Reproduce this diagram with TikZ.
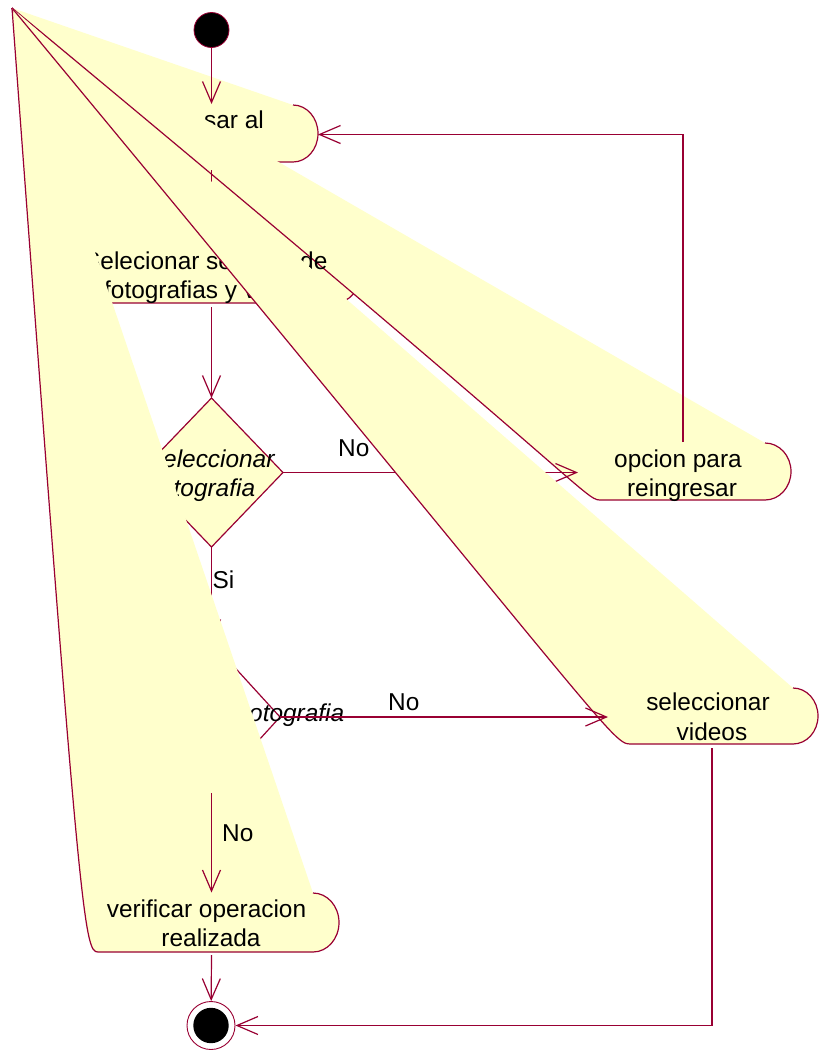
\documentclass[tikz,border=0pt]{standalone}
\usepackage{fontspec}
\setmainfont{Liberation Sans}
\usetikzlibrary{arrows.meta}
\definecolor{roseline}{RGB}{153,0,51}
\definecolor{rosefill}{RGB}{255,255,204}

% Activity outlines: rounded right end, bottom edge, then the left side
% swept back to the shared corner point (apex).
\newcommand\outlineIngresar{.. controls (306.8,105) and (318,117.8) .. (318,133.5) .. controls (318,149.2) and (306.8,162) .. (293,162) -- (124,162) .. controls (107,162) and (99,147) .. (apex)}
\newcommand\outlineServicio{.. controls (348.8,246) and (360,258.8) .. (360,274.5) .. controls (360,290.2) and (348.8,303) .. (335,303) -- (89,303) .. controls (72,303) and (64,288) .. (apex)}
\newcommand\outlineOpcion{.. controls (779.4,443) and (791,455.8) .. (791,471.5) .. controls (791,487.2) and (779.4,500) .. (765,500) -- (600,500) .. controls (585,500) and (585,483) .. (apex)}
\newcommand\outlineVideos{.. controls (806.8,688) and (818,700.5) .. (818,716) .. controls (818,731.5) and (806.8,744) .. (793,744) -- (630,744) .. controls (612,744) and (604,722) .. (apex)}
\newcommand\outlineVerificar{.. controls (327.4,893) and (339,906.2) .. (339,922.5) .. controls (339,938.8) and (327.4,952) .. (313,952) -- (98,952) .. controls (84,952) and (80,925) .. (apex)}

\begin{document}
\begin{tikzpicture}[x=1pt,y=-1pt,
  wire/.style={draw=roseline,line width=1.2pt},
  flow/.style={wire,-{Straight Barb[length=21pt,width=18pt]}},
  statefill/.style={fill=rosefill},
  txt/.style={font=\fontsize{24.4}{29}\selectfont,inner sep=0pt,text=black},
  guardtxt/.style={txt,font=\fontsize{24.4}{29}\selectfont\itshape}]

\useasboundingbox (0,0) rectangle (819,1050);
\fill[white] (0,0) rectangle (819,1050);
\coordinate (apex) at (12,8);

% ingresar al sistema
\fill[statefill] (apex) -- (293,105) \outlineIngresar -- cycle;
\draw[wire] (293,105) \outlineIngresar;
\node[txt,anchor=base west] (ingresarText) at (204,128.5) {sar al};

% initial state
\node[circle,fill=black,draw=roseline,line width=0.8pt,minimum size=35pt,inner sep=0pt] (init) at (211.5,30) {};
\coordinate (ingresarIn) at (211.5,104);
\draw[flow] (init) -- (ingresarIn);

% selecionar servicio
\fill[statefill] (apex) -- (335,246) \outlineServicio -- cycle;
\draw[wire] (335,246) \outlineServicio;

% opcion para reingresar
\fill[statefill] (apex) -- (765,443) \outlineOpcion -- cycle;
\draw[wire] (765,443) \outlineOpcion;
\node[txt,anchor=base] (opcionA) at (678,467) {opcion para};
\node[txt,anchor=base] (opcionB) at (682,496.5) {reingresar};

\node[txt,anchor=base west] (servicioA) at (84,269.5) {Selecionar se};
\node[txt,anchor=base west] (servicioB) at (300,269.5) {de};
\node[txt,anchor=base west] (servicioC) at (104,298) {fotografias y v};

\coordinate (ingresarOut) at (211.5,170);
\coordinate (servicioIn) at (211.5,245.5);
\draw[flow] (ingresarOut) -- (servicioIn);

% first decision
\coordinate (d1n) at (211.5,398);
\coordinate (d1e) at (283,472.5);
\coordinate (d1s) at (211.5,547);
\coordinate (d1w) at (140,472.5);
\draw[wire,fill=rosefill] (d1n) -- (d1e) -- (d1s) -- (d1w) -- cycle;
\node[guardtxt,anchor=base west] (d1A) at (163,467.3) {eleccionar};
\node[guardtxt,anchor=base west] (d1B) at (173.5,496.7) {tografia};
\coordinate (servicioOut) at (211.5,307);
\draw[flow] (servicioOut) -- (d1n);
\coordinate (opcionIn) at (578,472.5);
\draw[flow] (d1e) -- (opcionIn);

% seleccionar videos
\fill[statefill] (apex) -- (793,688) \outlineVideos -- cycle;
\draw[wire] (793,688) \outlineVideos;
\node[txt,anchor=base] (videosA) at (708,710.7) {seleccionar};
\node[txt,anchor=base] (videosB) at (712,740) {videos};

% second decision
\coordinate (d2n) at (211.5,642);
\coordinate (d2e) at (280,717);
\coordinate (d2s) at (211.5,792);
\coordinate (d2w) at (143,717);
\draw[wire,fill=white] (d2n) -- (d2e) -- (d2s) -- (d2w) -- cycle;
\node[guardtxt,anchor=base west] (d2A) at (249,721.7) {otografia};
\draw[flow] (d1s) -- (d2n);

% verificar operacion realizada
\fill[statefill] (apex) -- (313,893) \outlineVerificar -- cycle;
\draw[wire] (313,893) \outlineVerificar;
\node[txt,anchor=base] (verificarA) at (206.5,917.3) {verificar operacion};
\node[txt,anchor=base] (verificarB) at (211,946.7) {realizada};

% remaining transitions
\coordinate (videosIn) at (608,717);
\draw[flow] (d2e) -- (videosIn);
\coordinate (d2Out) at (211.5,793);
\coordinate (verificarIn) at (211.5,892.5);
\draw[flow] (d2Out) -- (verificarIn);

\node[circle,draw=roseline,line width=0.9pt,fill=white,minimum size=48pt,inner sep=0pt] (final) at (211,1025.5) {};
\node[circle,fill=black,minimum size=35.4pt,inner sep=0pt] (finalDot) at (final) {};
\coordinate (verificarOut) at (211.5,955);
\draw[flow] (verificarOut) -- (final);
\coordinate (videosOut) at (712,748);
\draw[flow] (videosOut) |- (final);
\coordinate (opcionOut) at (683,442);
\coordinate (ingresarEast) at (318,134.5);
\draw[flow] (opcionOut) |- (ingresarEast);

% guard labels
\node[txt,anchor=base west] (noA) at (338,456) {No};
\node[txt,anchor=base west] (siA) at (212.5,588.3) {Si};
\node[txt,anchor=base west] (noB) at (388,710) {No};
\node[txt,anchor=base west] (noC) at (222,841.5) {No};
\end{tikzpicture}
\end{document}
